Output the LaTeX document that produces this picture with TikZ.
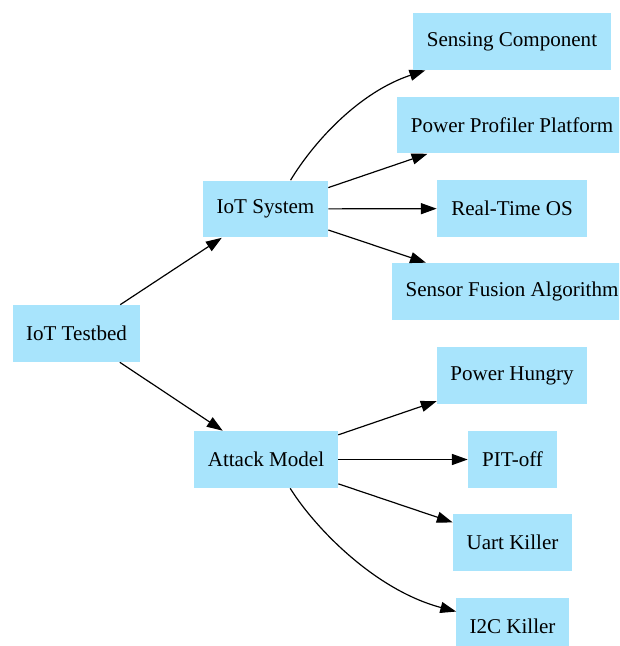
\documentclass[tikz,border=0pt]{standalone}
\usepackage{fontspec}
\setmainfont{Liberation Serif}
\usetikzlibrary{arrows.meta}
\definecolor{boxblue}{HTML}{A8E4FC}
\tikzset{
  boxnode/.style={fill=boxblue, draw=none, inner sep=0pt, minimum height=36pt,
    font=\fontsize{13.3pt}{15pt}\selectfont, text=black},
  edge/.style={draw=black, line width=0.75pt, -{Triangle[length=10pt,width=7pt]}}
}
\begin{document}
\begin{tikzpicture}[x=0.6317pt, y=-0.6317pt]
\useasboundingbox (0,0) rectangle (619,646);
\clip (0,0) rectangle (619,646);
\node[boxnode, minimum width=80.2pt] (tb) at (76.5,333.5) {IoT Testbed};
\node[boxnode, minimum width=79pt] (iot) at (265.5,209) {IoT System};
\node[boxnode, minimum width=91pt] (att) at (266,459.5) {Attack Model};
\node[boxnode, minimum width=125.1pt] (sens) at (512,41.5) {Sensing Component};
\node[boxnode, minimum width=145.3pt] (ppp) at (512,125) {Power Profiler Platform};
\node[boxnode, minimum width=94.8pt] (rtos) at (512,208.5) {Real-Time OS};
\node[boxnode, minimum width=151.6pt] (sfa) at (512,291.5) {Sensor Fusion Algorithm};
\node[boxnode, minimum width=94.8pt] (hun) at (512,375.5) {Power Hungry};
\node[boxnode, minimum width=56.2pt] (pit) at (512.5,459.5) {PIT-off};
\node[boxnode, minimum width=75.2pt] (uart) at (512.5,542.5) {Uart Killer};
\node[boxnode, minimum width=70.8pt] (i2c) at (512.5,626.5) {I2C Killer};
\draw[edge] (tb) -- (iot);
\draw[edge] (tb) -- (att);
\draw[edge] (iot.49) .. controls (315,140) and (360,92) .. (sens);
\draw[edge] (iot) -- (ppp);
\draw[edge] (iot) -- (rtos);
\draw[edge] (iot) -- (sfa);
\draw[edge] (att) -- (hun);
\draw[edge] (att) -- (pit);
\draw[edge] (att) -- (uart);
\draw[edge] (att.-50) .. controls (315,528) and (375,590) .. (i2c);
\end{tikzpicture}
\end{document}
